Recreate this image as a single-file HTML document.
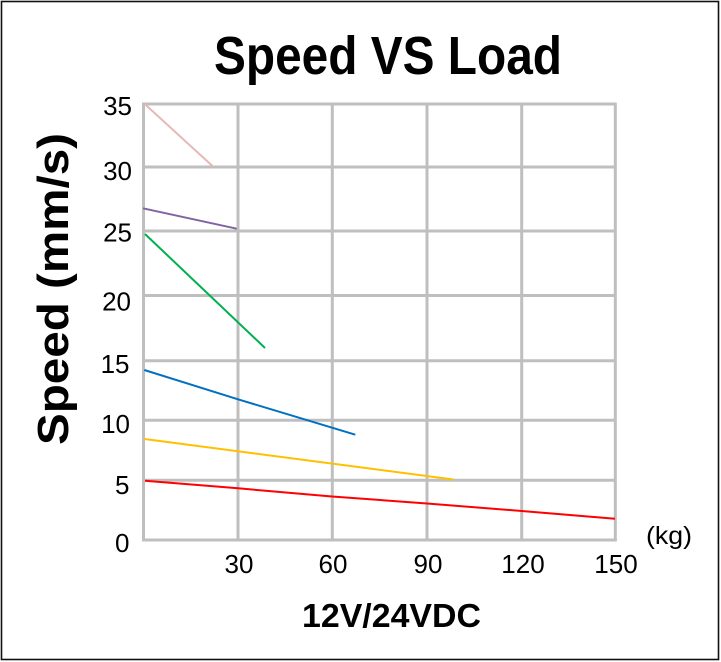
<!DOCTYPE html>
<html>
<head>
<meta charset="utf-8">
<style>
  html,body{margin:0;padding:0;background:#fff;}
  svg{display:block;}
  text{font-family:"Liberation Sans",Arial,sans-serif;fill:#000;}
</style>
</head>
<body>
<svg width="721" height="662" viewBox="0 0 721 662" xmlns="http://www.w3.org/2000/svg">
  <rect x="0" y="0" width="721" height="662" fill="#fff"/>
  <rect x="1.5" y="1.5" width="717" height="658" fill="none" stroke="#111" stroke-width="1.6"/>

  <!-- Title -->
  <text x="214" y="74" font-size="54" font-weight="bold" textLength="348" lengthAdjust="spacingAndGlyphs">Speed VS Load</text>

  <!-- Grid -->
  <g stroke="#bfbfbf" stroke-width="3" fill="none">
    <line x1="143.5" y1="104" x2="615.3" y2="104"/>
    <line x1="143.5" y1="167" x2="615.3" y2="167"/>
    <line x1="143.5" y1="231" x2="615.3" y2="231"/>
    <line x1="143.5" y1="295.5" x2="615.3" y2="295.5"/>
    <line x1="143.5" y1="360.7" x2="615.3" y2="360.7"/>
    <line x1="143.5" y1="420.2" x2="615.3" y2="420.2"/>
    <line x1="143.5" y1="480.3" x2="615.3" y2="480.3"/>
    <line x1="142" y1="540" x2="616.8" y2="540"/>
    <line x1="143.5" y1="102.5" x2="143.5" y2="541.5"/>
    <line x1="238" y1="102.5" x2="238" y2="541.5"/>
    <line x1="332.3" y1="102.5" x2="332.3" y2="541.5"/>
    <line x1="427" y1="102.5" x2="427" y2="541.5"/>
    <line x1="521.7" y1="102.5" x2="521.7" y2="541.5"/>
    <line x1="615.3" y1="102.5" x2="615.3" y2="541.5"/>
  </g>

  <!-- Series -->
  <g fill="none" stroke-width="2" stroke-linecap="butt">
    <line x1="145" y1="104.3" x2="213.3" y2="166.7" stroke="#e6b9b8"/>
    <line x1="143" y1="208.3" x2="236.7" y2="228.7" stroke="#8064a2"/>
    <line x1="145" y1="234" x2="265" y2="348" stroke="#00b050"/>
    <polyline points="144.3,370 238,399.3 355.3,434.7" stroke="#0070c0"/>
    <line x1="144.5" y1="439" x2="453.3" y2="479.5" stroke="#ffc000"/>
    <polyline points="145,480.7 238,488.3 332,496.5 427,503.5 521.7,511 615,518.8" stroke="#ff0000"/>
  </g>

  <!-- Y tick labels -->
  <g font-size="26" text-anchor="end">
    <text x="132" y="115">35</text>
    <text x="132" y="180">30</text>
    <text x="132" y="241.5">25</text>
    <text x="131" y="310.5">20</text>
    <text x="129.5" y="373">15</text>
    <text x="130" y="433">10</text>
    <text x="129.5" y="494">5</text>
    <text x="129.5" y="552">0</text>
  </g>

  <!-- X tick labels -->
  <g font-size="26" text-anchor="middle">
    <text x="239" y="573">30</text>
    <text x="333" y="573">60</text>
    <text x="428" y="573">90</text>
    <text x="523" y="573">120</text>
    <text x="616" y="573">150</text>
  </g>

  <text x="646" y="544" font-size="25" textLength="46" lengthAdjust="spacingAndGlyphs">(kg)</text>

  <!-- Y axis title -->
  <text transform="translate(68,445) rotate(-90)" font-size="44" font-weight="bold" textLength="312" lengthAdjust="spacingAndGlyphs">Speed (mm/s)</text>

  <!-- X axis title -->
  <text x="302" y="627" font-size="33.5" font-weight="bold" textLength="179" lengthAdjust="spacingAndGlyphs">12V/24VDC</text>
</svg>
</body>
</html>
